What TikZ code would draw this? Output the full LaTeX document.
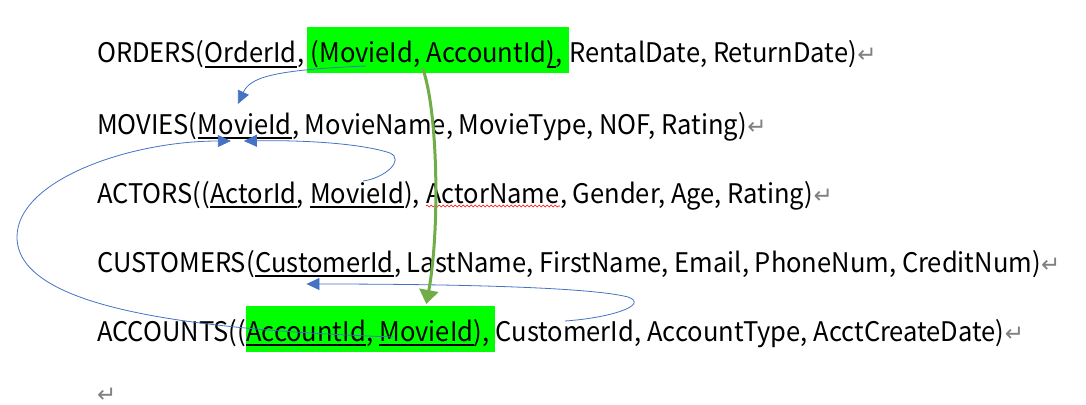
\documentclass[tikz,border=0pt]{standalone}
\usepackage{fontspec}
\setmainfont[FakeStretch=0.945]{Noto Sans CJK KR}
\newfontfamily\symfont{DejaVu Sans}
\usetikzlibrary{positioning,arrows.meta,backgrounds,decorations.pathmorphing}
\definecolor{hlgreen}{HTML}{00FF00}
\definecolor{linkblue}{HTML}{4472C4}
\definecolor{fkgreen}{HTML}{70AD47}

\begin{document}
\begin{tikzpicture}[x=1pt, y=-1pt,
		txt/.style={inner sep=0pt, anchor=base west, font=\fontsize{27}{32}\selectfont},
		ret/.style={inner sep=0pt, anchor=base west, text=gray, font=\symfont\fontsize{23}{23}\selectfont},
		key line/.style={line width=1.2pt},
		hl/.style={fill=hlgreen},
		link/.style={linkblue, line width=0.8pt, -{Triangle[length=13pt,width=12pt]}},
		fk link/.style={fkgreen, line width=3pt, -{Triangle[length=14pt,width=19pt]}},
		typo/.style={red, line width=0.6pt, decorate, decoration={snake, amplitude=1pt, segment length=4pt}}]
	\useasboundingbox (0,0) rectangle (1086,404);
	% ORDERS
	\node[txt] (ord) at (97,63) {ORDERS(};
	\node[txt] (ordid) at (ord.base east) {OrderId};
	\node[txt] (ordc) at (ordid.base east) {,\ \null};
	\node[txt] (ordlp) at (ordc.base east) {(};
	\node[txt] (ordmid) at (ordlp.base east) {MovieId};
	\node[txt] (ordc1) at (ordmid.base east) {,\ \null};
	\node[txt] (ordaid) at (ordc1.base east) {AccountId};
	\node[txt] (ordrp) at (ordaid.base east) {)};
	\node[txt] (ordc2) at (ordrp.base east) {,\ \null};
	\node[txt] (ordrest) at (ordc2.base east) {RentalDate, ReturnDate)};
	\node[ret] (ordret) at (ordrest.base east) {↵};
	% MOVIES
	\node[txt] (mov) at (97,134) {MOVIES(};
	\node[txt] (movmid) at (mov.base east) {MovieId};
	\node[txt] (movrest) at (movmid.base east) {, MovieName, MovieType, NOF, Rating)};
	\node[ret] (movret) at (movrest.base east) {↵};
	% ACTORS
	\node[txt] (act) at (97,203) {ACTORS((};
	\node[txt] (actid) at (act.base east) {ActorId};
	\node[txt] (actc) at (actid.base east) {,\ \null};
	\node[txt] (actmid) at (actc.base east) {MovieId};
	\node[txt] (actc1) at (actmid.base east) {),\ \null};
	\node[txt] (actname) at (actc1.base east) {ActorName};
	\node[txt] (actrest) at (actname.base east) {, Gender, Age, Rating)};
	\node[ret] (actret) at (actrest.base east) {↵};
	% CUSTOMERS
	\node[txt] (cus) at (97,272) {CUSTOMERS(};
	\node[txt] (cuscid) at (cus.base east) {CustomerId};
	\node[txt] (cusrest) at (cuscid.base east) {, LastName, FirstName, Email, PhoneNum, CreditNum)};
	\node[ret] (cusret) at (cusrest.base east) {↵};
	% ACCOUNTS
	\node[txt] (acc) at (97,341) {ACCOUNTS((};
	\node[txt] (accaid) at (acc.base east) {AccountId};
	\node[txt] (accc) at (accaid.base east) {,\ \null};
	\node[txt] (accmid) at (accc.base east) {MovieId};
	\node[txt] (accc1) at (accmid.base east) {),\ \null};
	\node[txt] (acccid) at (accc1.base east) {CustomerId};
	\node[txt] (accrest) at (acccid.base east) {, AccountType, AcctCreateDate)};
	\node[ret] (accret) at (accrest.base east) {↵};
	\node[ret] (endret) at (97,402) {↵};

	\begin{scope}[on background layer]
		\fill[hl] ([xshift=-3pt,yshift=36pt]ordlp.base west) rectangle ([yshift=-10pt]ordc2.base east);
		\fill[hl] ([yshift=35pt]accaid.base west) rectangle ([yshift=-11pt]accc1.base east);
	\end{scope}
	\foreach \k in {ordid,ordrp,movmid,actid,actmid,cuscid,accaid,accmid}{
		\draw[key line] ([yshift=-4pt]\k.base west) -- ([yshift=-4pt]\k.base east);
	}
	\draw[typo] ([yshift=-3pt]actname.base west) -- ([yshift=-3pt]actname.base east);

	\draw[link] ([yshift=-3pt]ordmid.base) .. controls (270,70) and (250,78) .. ([xshift=-7pt,yshift=30pt]movmid.base);
	\draw[link] ([xshift=6pt,yshift=22pt]actmid.base) .. controls (385,178) and (405,160) .. (390,153) .. controls (360,143) and (300,140) .. ([xshift=-1pt,yshift=-7pt]movmid.base);
	\draw[link] ([xshift=14pt,yshift=4pt]accmid.base west) .. controls (200,330) and (17,310) .. (17,237) .. controls (17,180) and (130,141) .. ([xshift=-14pt,yshift=-7pt]movmid.base);
	\draw[link] ([yshift=20pt]acccid.base) .. controls (610,318) and (650,305) .. (628,297) .. controls (590,287) and (450,284) .. ([xshift=-18pt,yshift=-12pt]cuscid.base);
	\draw[fk link] ([xshift=-4pt,yshift=-5pt]ordaid.base west) .. controls (438,110) and (440,230) .. ([xshift=47pt,yshift=37pt]accmid.base west);
\end{tikzpicture}
\end{document}
